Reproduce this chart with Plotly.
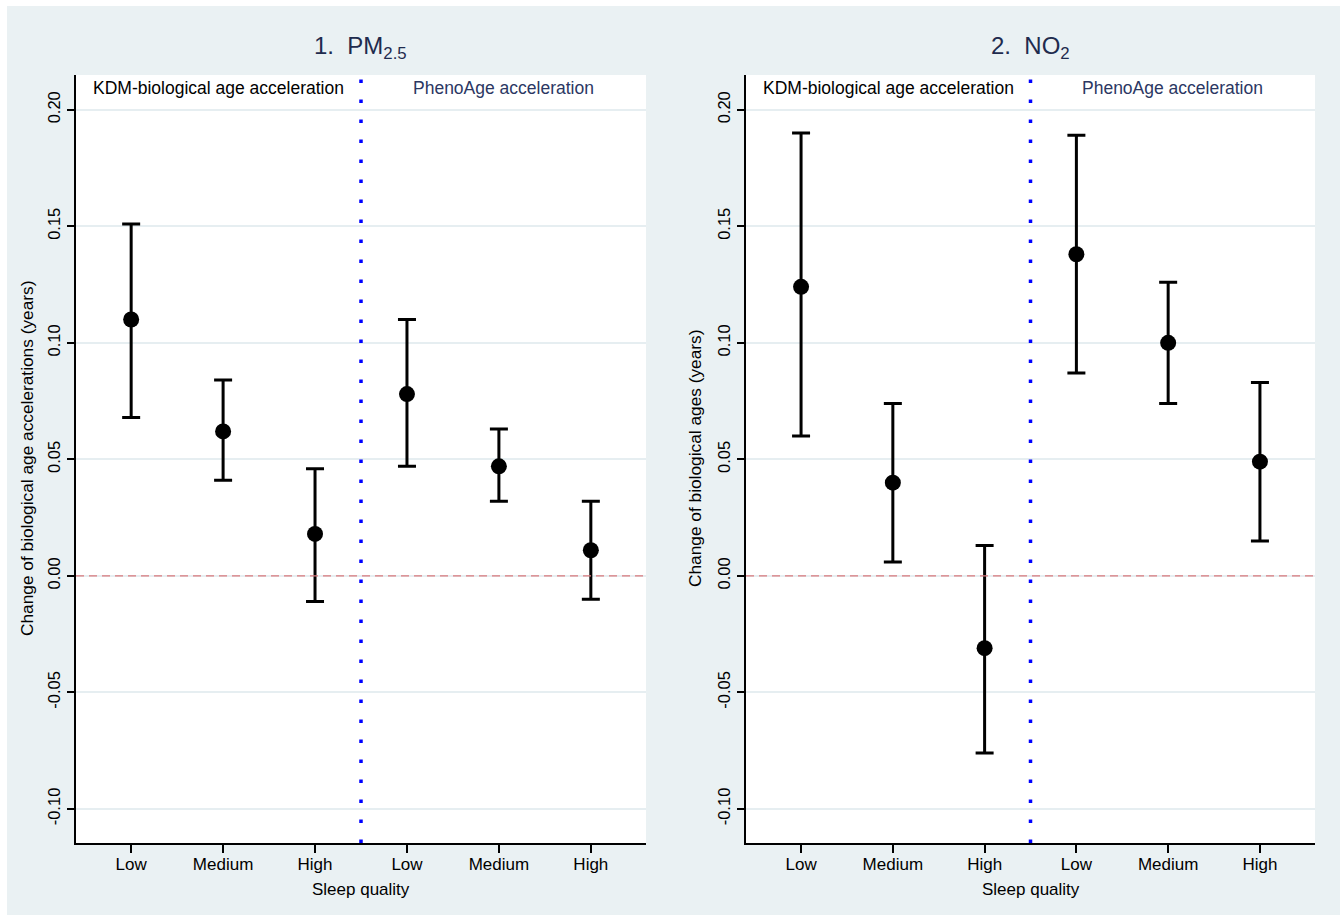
import plotly.graph_objects as go

# ---- data ----
positions = [1, 2, 3, 4, 5, 6]
sleep_labels = ["Low", "Medium", "High", "Low", "Medium", "High"]
divider_pos = 3.5

pm25_est = [0.110, 0.062, 0.018, 0.078, 0.047, 0.011]
pm25_lo = [0.068, 0.041, -0.011, 0.047, 0.032, -0.010]
pm25_hi = [0.151, 0.084, 0.046, 0.110, 0.063, 0.032]

no2_est = [0.124, 0.040, -0.031, 0.138, 0.100, 0.049]
no2_lo = [0.060, 0.006, -0.076, 0.087, 0.074, 0.015]
no2_hi = [0.190, 0.074, 0.013, 0.189, 0.126, 0.083]

y_ticks = [-0.10, -0.05, 0.00, 0.05, 0.10, 0.15, 0.20]
y_ticktext = ["-0.10", "-0.05", "0.00", "0.05", "0.10", "0.15", "0.20"]

panel_titles = ["1.  PM<sub>2.5</sub>", "2.  NO<sub>2</sub>"]
ytitles = ["Change of biological age accelerations (years)",
           "Change of biological ages (years)"]
section_labels = ["KDM-biological age acceleration", "PhenoAge acceleration"]
x_title = "Sleep quality"

# ---- layout constants ----
W, H = 1340, 917
FONT = "Liberation Sans, Arial, sans-serif"
BG = "#EAF1F3"
GRID = "#E6EEF1"
NAVY = "#1F2B4E"
xrange_ = [0.4, 6.6]
yrange_ = [-0.1146, 0.2149]

def px_x(p):
    return p / W

def px_y(p):
    return 1 - p / H

plot_top, plot_bot = 75, 843
x_domains = [[px_x(76), px_x(646)], [px_x(746), px_x(1315)]]
y_domain = [px_y(plot_bot), px_y(plot_top)]

fig = go.Figure()

series = [(pm25_est, pm25_lo, pm25_hi), (no2_est, no2_lo, no2_hi)]
for i, (est, lo, hi) in enumerate(series):
    xa = "x" if i == 0 else "x2"
    ya = "y" if i == 0 else "y2"
    fig.add_trace(go.Scatter(
        x=positions, y=est, mode="markers", xaxis=xa, yaxis=ya,
        marker=dict(color="black", size=16, symbol="circle"),
        error_y=dict(type="data", symmetric=False,
                     array=[h - e for h, e in zip(hi, est)],
                     arrayminus=[e - l for e, l in zip(est, lo)],
                     color="black", thickness=3, width=9),
        showlegend=False, hoverinfo="skip"))

layout = dict(
    width=W, height=H,
    paper_bgcolor=BG, plot_bgcolor="white",
    margin=dict(l=0, r=0, t=0, b=0),
    font=dict(family=FONT, color="black", size=17),
    showlegend=False,
)

for i in range(2):
    sfx = "" if i == 0 else str(i + 1)
    layout["xaxis" + sfx] = dict(
        domain=x_domains[i], range=xrange_, anchor="y" + sfx,
        tickmode="array", tickvals=positions, ticktext=sleep_labels,
        ticks="outside", ticklen=8, tickwidth=2, tickcolor="black",
        ticklabelstandoff=-3,
        showline=True, linecolor="black", linewidth=2,
        showgrid=False, zeroline=False, automargin=False,
        tickfont=dict(family=FONT, size=17, color="black"),
    )
    layout["yaxis" + sfx] = dict(
        domain=y_domain, range=yrange_, anchor="x" + sfx,
        tickmode="array", tickvals=y_ticks, ticktext=y_ticktext,
        tickangle=-90,
        ticks="outside", ticklen=7, tickwidth=2, tickcolor="black",
        showline=True, linecolor="black", linewidth=2,
        showgrid=True, gridcolor=GRID, gridwidth=1.5,
        zeroline=False, automargin=False,
        tickfont=dict(family=FONT, size=16.5, color="black"),
    )

fig.update_layout(**layout)

# thin white page border around the light background (as in the reference)
shapes = [
    dict(type="rect", xref="paper", yref="paper", x0=0, x1=1,
         y0=px_y(6), y1=1, fillcolor="white", line=dict(width=0), layer="above"),
    dict(type="rect", xref="paper", yref="paper", x0=0, x1=px_x(7),
         y0=0, y1=1, fillcolor="white", line=dict(width=0), layer="above"),
    dict(type="rect", xref="paper", yref="paper", x0=0, x1=1,
         y0=0, y1=px_y(915), fillcolor="white", line=dict(width=0), layer="above"),
]
annotations = []
title_centers = [361, 1030]
ytitle_x = [27, 695]
for i in range(2):
    sfx = "" if i == 0 else str(i + 1)
    xr, yr = "x" + sfx, "y" + sfx
    # zero reference line
    shapes.append(dict(type="line", xref=xr + " domain", yref=yr,
                       x0=0, x1=1, y0=0, y1=0,
                       line=dict(color="#D9787C", width=1.2, dash="8px,5px")))
    # divider line
    shapes.append(dict(type="line", xref=xr, yref=yr + " domain",
                       x0=divider_pos, x1=divider_pos, y0=0, y1=1,
                       line=dict(color="#0000FF", width=3.5, dash="3.5px,16.5px")))
    # panel title
    annotations.append(dict(text=panel_titles[i], xref="paper", yref="paper",
                            x=px_x(title_centers[i]), y=px_y(48),
                            xanchor="center", yanchor="middle", showarrow=False,
                            font=dict(family=FONT, size=24, color=NAVY)))
    # section labels
    left_mid = (xrange_[0] + divider_pos) / 2
    right_mid = (divider_pos + xrange_[1]) / 2
    annotations.append(dict(text=section_labels[0], xref=xr, yref="paper",
                            x=left_mid, y=px_y(88), xanchor="center",
                            yanchor="middle", showarrow=False,
                            font=dict(family=FONT, size=17.5, color="black")))
    annotations.append(dict(text=section_labels[1], xref=xr, yref="paper",
                            x=right_mid, y=px_y(88), xanchor="center",
                            yanchor="middle", showarrow=False,
                            font=dict(family=FONT, size=17.5, color="#2B3763")))
    # y title
    annotations.append(dict(text=ytitles[i], xref="paper", yref="paper",
                            x=px_x(ytitle_x[i]), y=px_y((plot_top + plot_bot) / 2),
                            textangle=-90, xanchor="center", yanchor="middle",
                            showarrow=False,
                            font=dict(family=FONT, size=17.3, color="black")))
    # x title
    annotations.append(dict(text=x_title, xref=xr + " domain", yref="paper",
                            x=0.5, y=px_y(889), xanchor="center",
                            yanchor="middle", showarrow=False,
                            font=dict(family=FONT, size=17, color="black")))

fig.update_layout(shapes=shapes, annotations=annotations)
fig.write_html("out.html",
               config={"displayModeBar": False},
               post_script="document.body.style.margin='0';"
                           "document.body.style.overflow='hidden';")
